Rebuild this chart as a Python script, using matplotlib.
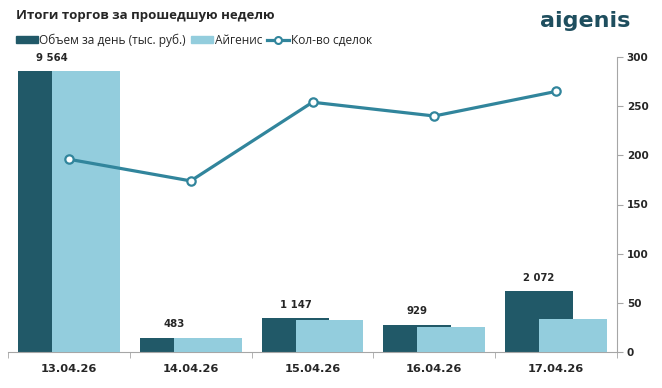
import matplotlib
matplotlib.use("Agg")
import matplotlib.pyplot as plt
import numpy as np
from matplotlib.patches import Patch
from matplotlib.lines import Line2D

plt.rcParams['font.family'] = ['DejaVu Sans']

dates = ["13.04.26", "14.04.26", "15.04.26", "16.04.26", "17.04.26"]
volume = [9564, 483, 1147, 929, 2072]          # Объем за день (тыс. руб.)
aigenis = [9564, 483, 1090, 850, 1120]         # Айгенис
deals = [196, 174, 254, 240, 265]              # Кол-во сделок

dark = "#215968"
light = "#93CDDD"
line_c = "#31859C"
text_c = "#262626"
grey = "#A6A6A6"

fig = plt.figure(figsize=(6.62, 3.88), dpi=100)
ax = fig.add_axes([8 / 662, 36 / 388, 609 / 662, 295 / 388])
ax2 = ax.twinx()

x = np.arange(len(dates))
w = 0.557
off = 0.139
ax.bar(x - off, volume, w, color=dark, zorder=2)
ax.bar(x + off, aigenis, w, color=light, zorder=3)
for xi, v in zip(x, volume):
    ax.annotate(f"{v:,}".replace(",", " "), (xi - off, v), xytext=(0, 6),
                textcoords="offset points", ha="center", va="bottom",
                fontsize=7.3, fontweight="bold", color=text_c)

ax.set_xlim(-0.5, len(dates) - 0.5)
ax.set_ylim(0, 10050)
ax.set_yticks([])
ax.set_xticks(x)
ax.set_xticklabels(dates, fontsize=8.2, fontweight="bold", color=text_c)
ax.set_xticks(np.arange(-0.5, len(dates)), minor=True)
ax.tick_params(axis="x", which="major", length=0, pad=9)
ax.tick_params(axis="x", which="minor", length=4, color=grey, direction="out")
for s in ["top", "left", "right"]:
    ax.spines[s].set_visible(False)
ax.spines["bottom"].set_color(grey)

ax2.plot(x, deals, color=line_c, lw=2.3, marker="o", ms=6,
         mfc="white", mec=line_c, mew=1.6, zorder=5)
ax2.set_ylim(0, 300)
ax2.set_yticks(range(0, 301, 50))
ax2.tick_params(axis="y", direction="out", length=4, color=grey,
                labelsize=7.5, labelcolor=text_c, pad=3)
for lab in ax2.get_yticklabels():
    lab.set_fontweight("bold")
for s in ["top", "left", "bottom"]:
    ax2.spines[s].set_visible(False)
ax2.spines["right"].set_color(grey)
ax.set_zorder(1)
ax2.set_zorder(2)
ax2.patch.set_visible(False)

fig.text(16 / 662, 1 - 15 / 388, "Итоги торгов за прошедшую неделю",
         fontsize=9.5, fontweight="bold", color=text_c, va="center",
         family="Open Sans")
fig.text(585 / 662, 1 - 21 / 388, "aigenis", fontsize=16, fontweight="bold",
         color="#1E4E5E", ha="center", va="center")

handles = [Patch(color=dark), Patch(color=light),
           Line2D([], [], color=line_c, lw=2.3, marker="o", ms=5,
                  mfc="white", mec=line_c, mew=1.5)]
labels = ["Объем за день (тыс. руб.)", "Айгенис", "Кол-во сделок"]
fig.legend(handles, labels, loc="center left", bbox_to_anchor=(16 / 662, 1 - 40 / 388),
           ncol=3, frameon=False, labelcolor=text_c,
           prop={"family": "Open Sans", "size": 8.6},
           handlelength=1.8, handletextpad=0.15, columnspacing=0.45,
           handleheight=0.6, borderaxespad=0, borderpad=0)

fig.savefig("out.png", dpi=100)
